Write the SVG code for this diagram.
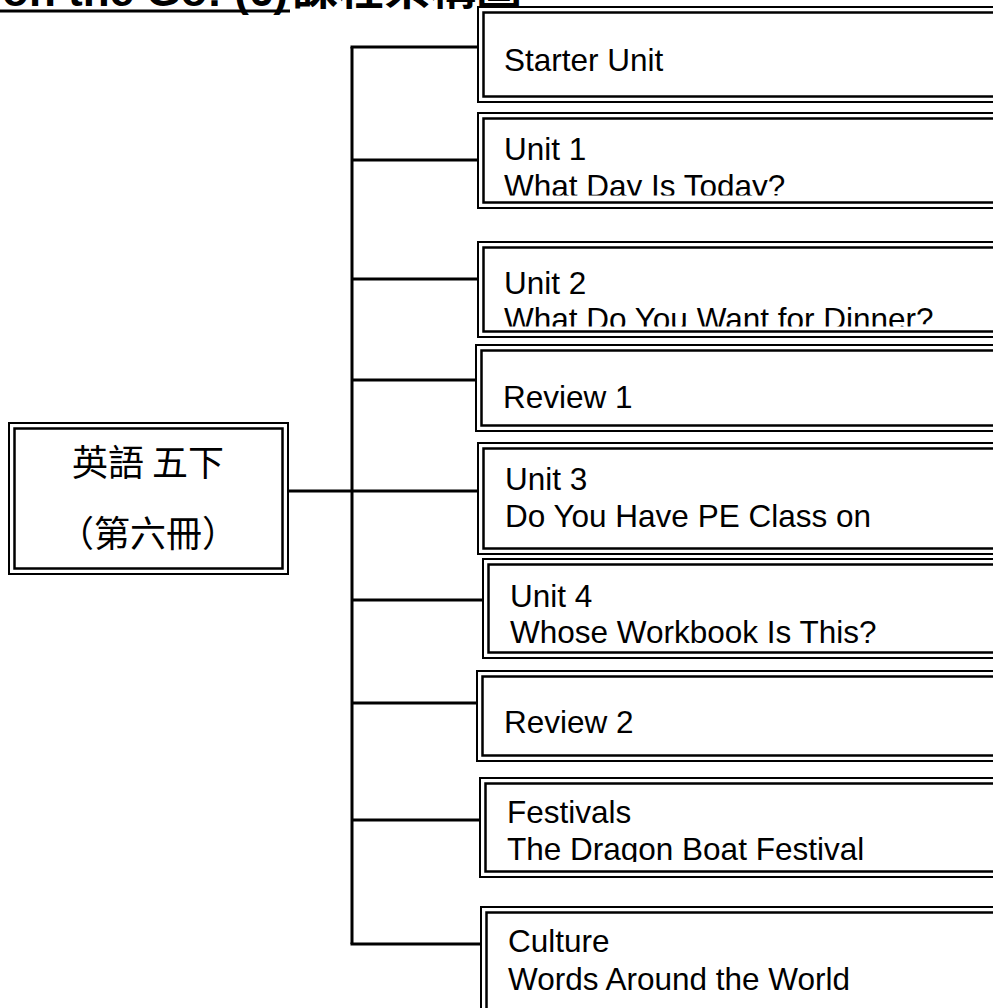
<svg xmlns="http://www.w3.org/2000/svg" width="993" height="1008" viewBox="0 0 993 1008">
<defs>
<style>
.o{fill:#fff;stroke:#000;stroke-width:2}
.i{fill:none;stroke:#000;stroke-width:2.5}
.t{font-family:"Liberation Sans",Arial,sans-serif;font-size:31.5px;fill:#000}
.c{font-family:"Noto Sans CJK TC","Noto Sans CJK SC",serif;font-size:36px;fill:#000}
.ln{stroke:#000;stroke-width:3;fill:none}
</style>
<clipPath id="cp1"><rect x="480" y="118" width="520" height="77.5"/></clipPath>
<clipPath id="cp2"><rect x="480" y="247" width="520" height="79.5"/></clipPath>
<clipPath id="cp8"><rect x="480" y="783" width="520" height="79"/></clipPath>
</defs>
<rect width="993" height="1008" fill="#fff"/>
<g id="title">
<text x="288" y="6" text-anchor="end" font-family="Liberation Sans,Arial,sans-serif" font-weight="bold" font-size="44">Dino on the Go! (6)</text>
<line x1="0" y1="11" x2="290" y2="11" stroke="#000" stroke-width="3"/>
<text x="292" y="4" font-family="Noto Sans CJK TC,sans-serif" font-weight="bold" font-size="46">課程架構圖</text>
</g>
<g id="connectors">
<line class="ln" x1="352" y1="47" x2="352" y2="944"/>
<line class="ln" x1="350.5" y1="47" x2="478" y2="47"/>
<line class="ln" x1="352" y1="160" x2="478" y2="160"/>
<line class="ln" x1="352" y1="279" x2="478" y2="279"/>
<line class="ln" x1="352" y1="380" x2="476" y2="380"/>
<line class="ln" x1="288" y1="491" x2="478" y2="491"/>
<line class="ln" x1="352" y1="600" x2="483" y2="600"/>
<line class="ln" x1="352" y1="703" x2="477" y2="703"/>
<line class="ln" x1="352" y1="820" x2="480" y2="820"/>
<line class="ln" x1="350.5" y1="944" x2="481" y2="944"/>
</g>
<g id="root">
<rect class="o" x="9" y="423" width="279" height="151"/>
<rect class="i" x="14.5" y="428.5" width="268" height="140"/>
<text class="c" x="148" y="476" text-anchor="middle">英語 五下</text>
<text class="c" x="148" y="547" text-anchor="middle">（第六冊）</text>
</g>
<g id="starter">
<rect class="o" x="478" y="7" width="540" height="95"/>
<rect class="i" x="483.5" y="12.5" width="540" height="84"/>
<text class="t" x="504" y="71">Starter Unit</text>
</g>
<g id="unit1">
<rect class="o" x="478" y="113" width="540" height="95"/>
<rect class="i" x="483.5" y="118.5" width="540" height="84"/>
<g clip-path="url(#cp1)">
<text class="t" x="504" y="160">Unit 1</text>
<text class="t" x="504" y="197">What Day Is Today?</text>
</g>
</g>
<g id="unit2">
<rect class="o" x="478" y="242" width="540" height="95"/>
<rect class="i" x="483.5" y="247.5" width="540" height="84"/>
<g clip-path="url(#cp2)">
<text class="t" x="504" y="294">Unit 2</text>
<text class="t" x="504" y="330">What Do You Want for Dinner?</text>
</g>
</g>
<g id="review1">
<rect class="o" x="476" y="345" width="540" height="86"/>
<rect class="i" x="481.5" y="350.5" width="540" height="75"/>
<text class="t" x="503" y="408">Review 1</text>
</g>
<g id="unit3">
<rect class="o" x="478" y="443" width="540" height="111"/>
<rect class="i" x="483.5" y="448.5" width="540" height="100"/>
<text class="t" x="505" y="490">Unit 3</text>
<text class="t" x="505" y="527">Do You Have PE Class on</text>
</g>
<g id="unit4">
<rect class="o" x="483" y="559" width="540" height="99"/>
<rect class="i" x="488.5" y="564.5" width="540" height="88"/>
<text class="t" x="510" y="607">Unit 4</text>
<text class="t" x="510" y="643">Whose Workbook Is This?</text>
</g>
<g id="review2">
<rect class="o" x="477" y="671" width="540" height="90"/>
<rect class="i" x="482.5" y="676.5" width="540" height="79"/>
<text class="t" x="504" y="733">Review 2</text>
</g>
<g id="festivals">
<rect class="o" x="480" y="778" width="540" height="99"/>
<rect class="i" x="485.5" y="783.5" width="540" height="88"/>
<g clip-path="url(#cp8)">
<text class="t" x="507" y="823">Festivals</text>
<text class="t" x="507" y="860">The Dragon Boat Festival</text>
</g>
</g>
<g id="culture">
<rect class="o" x="481" y="907" width="540" height="120"/>
<rect class="i" x="486.5" y="912.5" width="540" height="110"/>
<text class="t" x="508" y="952">Culture</text>
<text class="t" x="508" y="990">Words Around the World</text>
</g>
</svg>
